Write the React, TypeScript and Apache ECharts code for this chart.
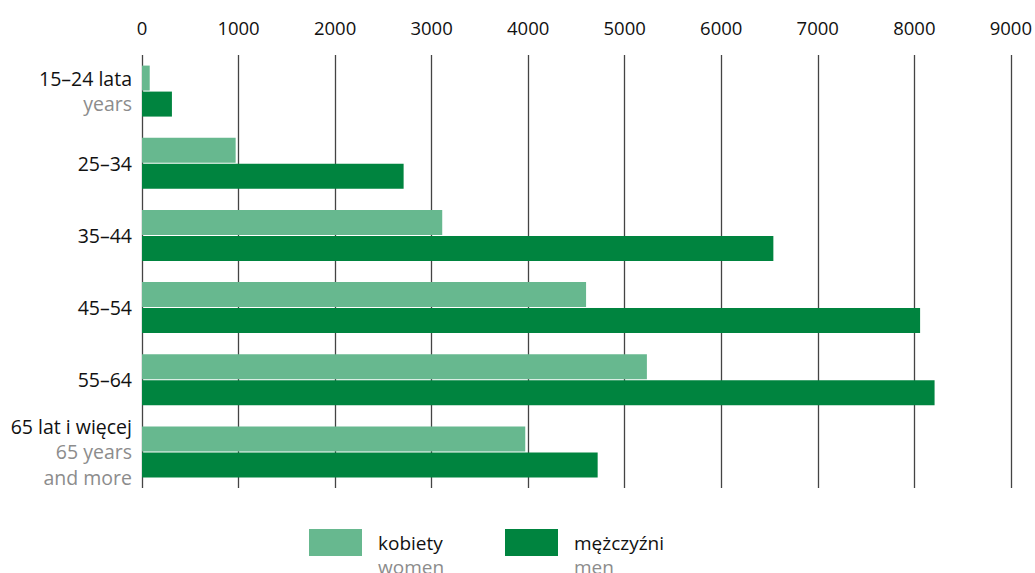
import React, { useEffect, useRef } from "react";
import * as echarts from "echarts";

const categories = ["15–24 lata\nyears", "25–34", "35–44", "45–54", "55–64", "65 lat i więcej\n65 years\nand more"];
const women = [80, 970, 3110, 4600, 5230, 3970];
const men = [310, 2710, 6540, 8060, 8210, 4720];
const xTicks = [0, 1000, 2000, 3000, 4000, 5000, 6000, 7000, 8000, 9000];
const seriesNames = ["kobiety", "mężczyźni"];
const seriesSubNames = ["women", "men"];

const FONT = "'Open Sans', 'Noto Sans', sans-serif";
const LIGHT = "#67b88f";
const DARK = "#00843f";
const GREY = "#8c8c8c";

export default function App() {
  const ref = useRef<HTMLDivElement>(null);
  useEffect(() => {
    if (!ref.current) return;
    const chart = echarts.init(ref.current, undefined, { renderer: "svg" });
    const legendText = (i: number) => ({
      formatter: (name: string) => `{a|${name}}\n{b|${seriesSubNames[i]}}`,
      textStyle: {
        fontFamily: FONT,
        padding: [24, 0, 0, 11],
        rich: {
          a: { fontFamily: FONT, fontSize: 19, color: "#111", lineHeight: 24 },
          b: { fontFamily: FONT, fontSize: 19, color: GREY, lineHeight: 24 },
        },
      },
    });
    chart.setOption({
      animation: false,
      textStyle: { fontFamily: FONT },
      grid: { left: 142, right: 24, top: 55, bottom: 85, containLabel: false },
      legend: [
        {
          data: [seriesNames[0]],
          left: 304,
          top: 524,
          itemWidth: 53,
          itemHeight: 27,
          icon: "rect",
          selectedMode: false,
          ...legendText(0),
        },
        {
          data: [seriesNames[1]],
          left: 500,
          top: 524,
          itemWidth: 53,
          itemHeight: 27,
          icon: "rect",
          selectedMode: false,
          ...legendText(1),
        },
      ],
      xAxis: {
        type: "value",
        position: "top",
        min: xTicks[0],
        max: xTicks[xTicks.length - 1],
        interval: 1000,
        axisLine: { show: false },
        axisTick: { show: false },
        axisLabel: {
          fontFamily: FONT,
          fontSize: 18.5,
          color: "#111",
          margin: 18,
          formatter: (v: number) => String(v),
        },
        splitLine: { show: true, lineStyle: { color: "#444", width: 1.3 } },
      },
      yAxis: {
        type: "category",
        inverse: true,
        data: categories,
        axisLine: { show: false },
        axisTick: { show: false },
        axisLabel: {
          margin: 10,
          align: "right",
          formatter: (v: string) => {
            const lines = v.split("\n");
            return lines.map((l, i) => (i === 0 ? `{a|${l}}` : `{b|${l}}`)).join("\n");
          },
          rich: {
            a: { fontFamily: FONT, fontSize: 19.5, color: "#111", lineHeight: 25.5, align: "right" },
            b: { fontFamily: FONT, fontSize: 19.5, color: GREY, lineHeight: 25.5, align: "right" },
          },
        },
      },
      series: [
        {
          name: seriesNames[0],
          type: "bar",
          data: women,
          barWidth: 25,
          barGap: "4%",
          itemStyle: { color: LIGHT },
        },
        {
          name: seriesNames[1],
          type: "bar",
          data: men,
          barWidth: 25,
          barGap: "4%",
          itemStyle: { color: DARK },
        },
      ],
    });
    return () => chart.dispose();
  }, []);
  return (
    <div
      ref={ref}
      style={{ position: "fixed", left: 0, top: 0, width: 1035, height: 573, background: "#fff" }}
    />
  );
}
